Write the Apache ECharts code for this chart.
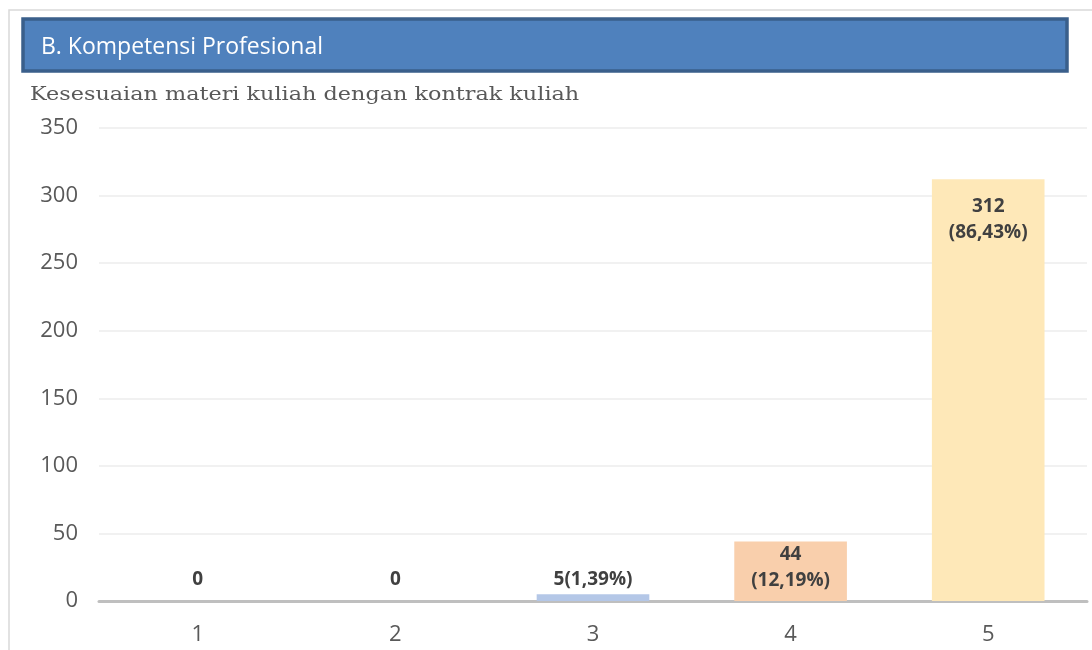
<!DOCTYPE html>
<html>
<head>
<meta charset="utf-8">
<style>
  html, body { margin: 0; padding: 0; background: #fff; }
  #chart-container { width: 1092px; height: 650px; }
</style>
<script src="https://cdn.jsdelivr.net/npm/echarts@6/dist/echarts.min.js"></script>
</head>
<body>
<div id="chart-container"></div>
<script>
var categories = ['1', '2', '3', '4', '5'];
var counts = [0, 0, 5, 44, 312];
var barLabels = ['0', '0', '5(1,39%)', '44\n(12,19%)', '312\n(86,43%)'];
var barColors = ['#b4c7e7', '#b4c7e7', '#b4c7e7', '#f9cfac', '#fee8b8'];
var yTicks = [0, 50, 100, 150, 200, 250, 300, 350];

var dom = document.getElementById('chart-container');
var myChart = echarts.init(dom, null, { renderer: 'canvas' });

// label placement roughly like the excel export: small bars get it above, big ones inside
function labelFor(v, i) {
  if (v > 20) {
    return { formatter: barLabels[i], position: 'insideTop', distance: v > 100 ? 14 : 0 };
  }
  return { formatter: barLabels[i], position: 'top', distance: v === 0 ? 8 : 2 };
}

var barData = counts.map(function (v, i) {
  return {
    value: v,
    itemStyle: { color: barColors[i] },
    label: labelFor(v, i)
  };
});

var option = {
  animation: false,
  textStyle: { fontFamily: 'Open Sans, Noto Sans, sans-serif' },
  graphic: [
    {
      type: 'polyline',
      shape: { points: [[9, 650], [9, 10], [1092, 10]] },
      style: { stroke: '#d9d9d9', lineWidth: 1.5, fill: null }
    },
    {
      type: 'rect',
      shape: { x: 23, y: 19, width: 1044, height: 52 },
      style: { fill: '#4f81bd', stroke: '#3a5f8b', lineWidth: 3.5 }
    },
    {
      type: 'text',
      x: 41,
      y: 47,
      style: {
        text: 'B. Kompetensi Profesional',
        fill: '#ffffff',
        font: '23px "Open Sans", "Noto Sans", sans-serif',
        verticalAlign: 'middle'
      }
    },
    {
      type: 'text',
      x: 30,
      y: 95,
      scaleX: 1.24,
      style: {
        text: 'Kesesuaian materi kuliah dengan kontrak kuliah',
        fill: '#595959',
        font: '18px "DejaVu Serif", serif',
        verticalAlign: 'middle'
      }
    }
  ],
  grid: { left: 99, right: 5, top: 128, bottom: 49, containLabel: false },
  xAxis: {
    type: 'category',
    data: categories,
    axisLine: { lineStyle: { color: '#bfbfbf', width: 3 } },
    axisTick: { show: false },
    axisLabel: { color: '#595959', fontSize: 22, margin: 23 }
  },
  yAxis: {
    type: 'value',
    min: yTicks[0],
    max: yTicks[yTicks.length - 1],
    interval: 50,
    axisLine: { show: false },
    axisTick: { show: false },
    axisLabel: { color: '#595959', fontSize: 22, margin: 21 },
    splitLine: { lineStyle: { color: '#ececec', width: 1.5 } }
  },
  series: [
    {
      type: 'bar',
      data: barData,
      barWidth: '57%',
      label: {
        show: true,
        color: '#404040',
        fontSize: 19,
        fontWeight: 'bold',
        lineHeight: 26,
        fontFamily: 'Open Sans, Noto Sans, sans-serif'
      }
    }
  ]
};

myChart.setOption(option);
window.addEventListener('resize', myChart.resize);
</script>
</body>
</html>
